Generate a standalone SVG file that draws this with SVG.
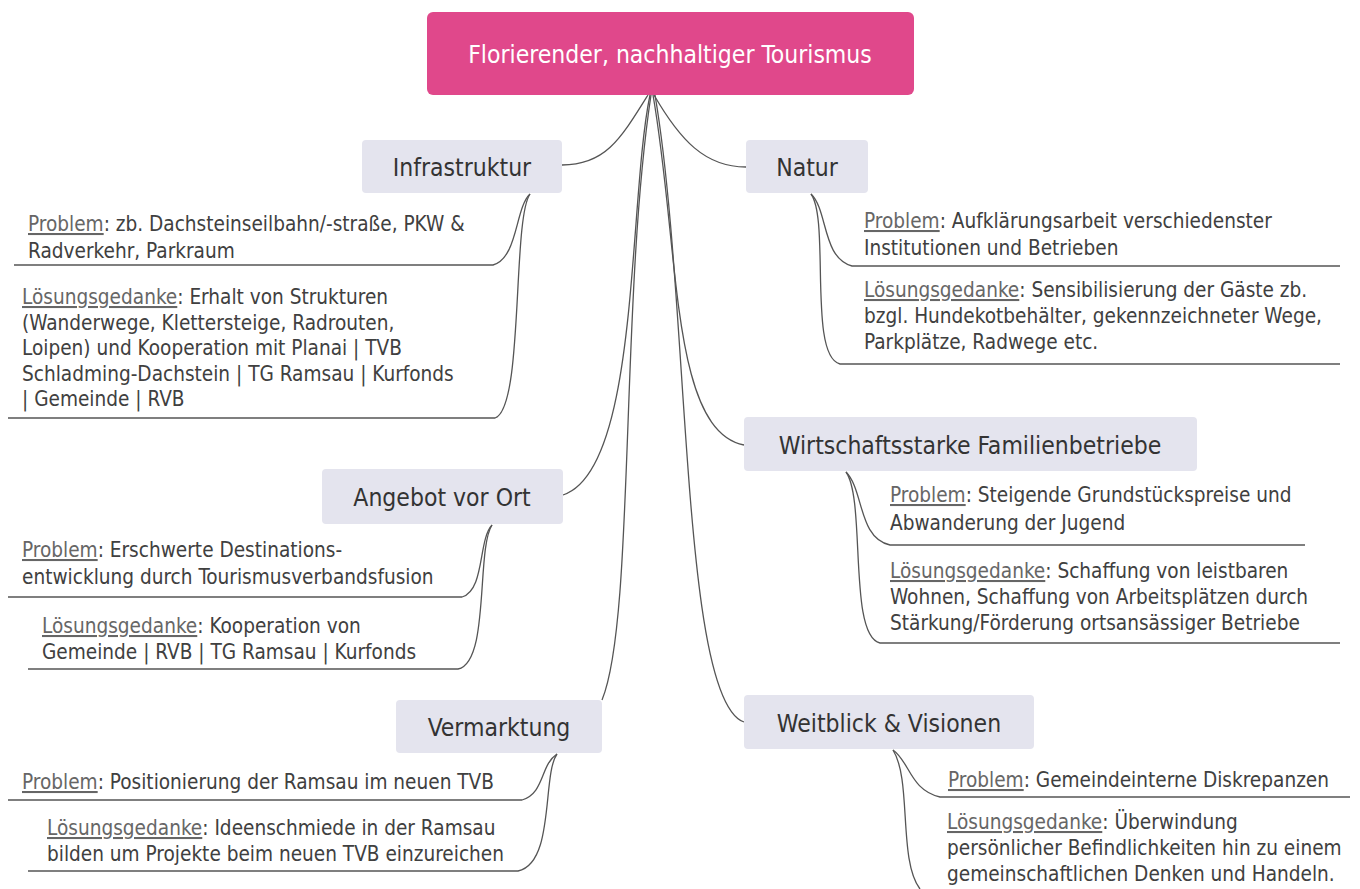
<svg xmlns="http://www.w3.org/2000/svg" width="1360" height="889" viewBox="0 0 1360 889">
<style>
.bg{fill:#ffffff}
.root{fill:#E0488B}
.rootT{fill:#ffffff;font-family:"DejaVu Sans Condensed","DejaVu Sans",sans-serif;font-size:24.5px}
.topic{fill:#E4E4EE}
.topicT{fill:#333333;font-family:"DejaVu Sans Condensed","DejaVu Sans",sans-serif;font-size:24.5px}
.leaf{fill:#404040;font-family:"DejaVu Sans Condensed","DejaVu Sans",sans-serif;font-size:20.6px}
.u{fill:#666666;text-decoration:underline}
.c{fill:none;stroke:#555555;stroke-width:1.3}
</style>
<rect class="bg" x="0" y="0" width="1360" height="889"/>
<g id="connectors">
<path class="c" d="M648,95 C620,140 605,165 562,165"/>
<path class="c" d="M654,95 C680,140 705,167 746,167"/>
<path class="c" d="M650,95 C628,200 640,470 563,495"/>
<path class="c" d="M651,95 C620,300 635,620 602,700"/>
<path class="c" d="M653,95 C680,250 670,430 744,445"/>
<path class="c" d="M655,95 C690,300 680,700 744,722"/>
<path class="c" d="M530,194 C515,208 518,258 493,265 L14,265"/>
<path class="c" d="M530,194 C512,220 524,408 495,418 L8,418"/>
<path class="c" d="M492,525 C478,540 485,590 462,597 L8,597"/>
<path class="c" d="M492,525 C476,550 490,662 458,669 L28,669"/>
<path class="c" d="M557,754 C540,765 545,793 522,800 L8,800"/>
<path class="c" d="M557,754 C542,775 555,863 518,871 L28,871"/>
<path class="c" d="M811,194 C828,210 822,258 852,266 L1340,266"/>
<path class="c" d="M811,194 C830,220 808,356 840,364 L1340,364"/>
<path class="c" d="M846,472 C864,490 858,538 890,545 L1305,545"/>
<path class="c" d="M846,472 C866,500 848,636 880,643 L1340,643"/>
<path class="c" d="M893,750 C910,762 910,790 940,797 L1350,797"/>
<path class="c" d="M893,750 C912,780 898,860 920,889"/>
</g>
<g id="root">
<rect class="root" x="427" y="12" width="487" height="83" rx="6"/>
<text class="rootT" x="670" y="63" text-anchor="middle">Florierender, nachhaltiger Tourismus</text>
</g>
<g id="infrastruktur">
<rect class="topic" x="362" y="140" width="200" height="53" rx="4"/>
<text class="topicT" x="462" y="176" text-anchor="middle">Infrastruktur</text>
<text class="leaf" x="28" y="231"><tspan class="u">Problem</tspan>: zb. Dachsteinseilbahn/-straße, PKW &amp;</text>
<text class="leaf" x="28" y="258">Radverkehr, Parkraum</text>
<text class="leaf" x="22" y="304"><tspan class="u">Lösungsgedanke</tspan>: Erhalt von Strukturen</text>
<text class="leaf" x="22" y="330">(Wanderwege, Klettersteige, Radrouten,</text>
<text class="leaf" x="22" y="355">Loipen) und Kooperation mit Planai | TVB</text>
<text class="leaf" x="22" y="381">Schladming-Dachstein | TG Ramsau | Kurfonds</text>
<text class="leaf" x="22" y="406">| Gemeinde | RVB</text>
</g>
<g id="natur">
<rect class="topic" x="746" y="140" width="122" height="53" rx="4"/>
<text class="topicT" x="807" y="176" text-anchor="middle">Natur</text>
<text class="leaf" x="864" y="228"><tspan class="u">Problem</tspan>: Aufklärungsarbeit verschiedenster</text>
<text class="leaf" x="864" y="255">Institutionen und Betrieben</text>
<text class="leaf" x="864" y="297"><tspan class="u">Lösungsgedanke</tspan>: Sensibilisierung der Gäste zb.</text>
<text class="leaf" x="864" y="323">bzgl. Hundekotbehälter, gekennzeichneter Wege,</text>
<text class="leaf" x="864" y="349">Parkplätze, Radwege etc.</text>
</g>
<g id="angebot">
<rect class="topic" x="322" y="469" width="241" height="55" rx="4"/>
<text class="topicT" x="442" y="506" text-anchor="middle">Angebot vor Ort</text>
<text class="leaf" x="22" y="557"><tspan class="u">Problem</tspan>: Erschwerte Destinations-</text>
<text class="leaf" x="22" y="584">entwicklung durch Tourismusverbandsfusion</text>
<text class="leaf" x="42" y="633"><tspan class="u">Lösungsgedanke</tspan>: Kooperation von</text>
<text class="leaf" x="42" y="659">Gemeinde | RVB | TG Ramsau | Kurfonds</text>
</g>
<g id="wirtschaft">
<rect class="topic" x="744" y="417" width="453" height="54" rx="4"/>
<text class="topicT" x="970" y="454" text-anchor="middle">Wirtschaftsstarke Familienbetriebe</text>
<text class="leaf" x="890" y="502"><tspan class="u">Problem</tspan>: Steigende Grundstückspreise und</text>
<text class="leaf" x="890" y="530">Abwanderung der Jugend</text>
<text class="leaf" x="890" y="578"><tspan class="u">Lösungsgedanke</tspan>: Schaffung von leistbaren</text>
<text class="leaf" x="890" y="604">Wohnen, Schaffung von Arbeitsplätzen durch</text>
<text class="leaf" x="890" y="630">Stärkung/Förderung ortsansässiger Betriebe</text>
</g>
<g id="vermarktung">
<rect class="topic" x="396" y="700" width="206" height="53" rx="4"/>
<text class="topicT" x="499" y="736" text-anchor="middle">Vermarktung</text>
<text class="leaf" x="22" y="789"><tspan class="u">Problem</tspan>: Positionierung der Ramsau im neuen TVB</text>
<text class="leaf" x="47" y="835"><tspan class="u">Lösungsgedanke</tspan>: Ideenschmiede in der Ramsau</text>
<text class="leaf" x="47" y="861">bilden um Projekte beim neuen TVB einzureichen</text>
</g>
<g id="weitblick">
<rect class="topic" x="744" y="695" width="290" height="54" rx="4"/>
<text class="topicT" x="889" y="732" text-anchor="middle">Weitblick &amp; Visionen</text>
<text class="leaf" x="948" y="787"><tspan class="u">Problem</tspan>: Gemeindeinterne Diskrepanzen</text>
<text class="leaf" x="947" y="829"><tspan class="u">Lösungsgedanke</tspan>: Überwindung</text>
<text class="leaf" x="947" y="855">persönlicher Befindlichkeiten hin zu einem</text>
<text class="leaf" x="947" y="881">gemeinschaftlichen Denken und Handeln.</text>
</g>
</svg>
